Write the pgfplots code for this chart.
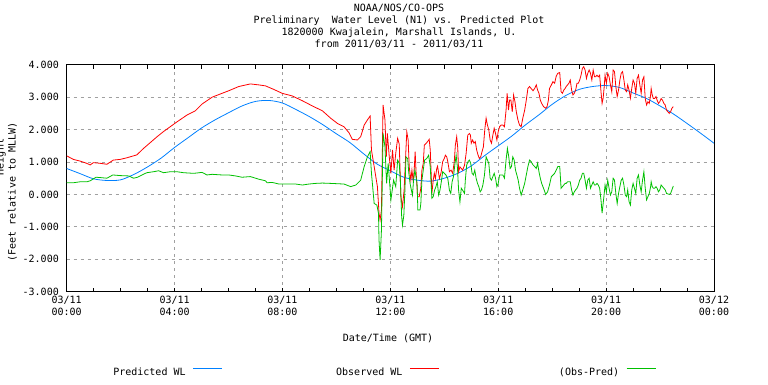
\documentclass[border=0pt]{standalone}
\usepackage{pgfplots}
\pgfplotsset{compat=1.18}
\usepackage{fontspec}
\setmainfont{DejaVu Sans Mono}
\setmonofont{DejaVu Sans Mono}
\definecolor{predc}{RGB}{0,128,255}
\definecolor{obsc}{RGB}{255,0,0}
\definecolor{resc}{RGB}{0,192,0}
\definecolor{gridc}{RGB}{160,160,160}
\begin{document}
\begin{tikzpicture}[font=\fontsize{10}{12}\selectfont]
\begin{axis}[
  at={(66.7pt,92.4pt)}, anchor=south west, scale only axis,
  width=647.3pt, height=226.8pt,
  xmin=0, xmax=24, ymin=-3, ymax=4,
  xtick={0,4,8,12,16,20,24}, minor xtick={1,2,3,5,6,7,9,10,11,13,14,15,17,18,19,21,22,23},
  xticklabels={{03/11\\00:00},{03/11\\04:00},{03/11\\08:00},{03/11\\12:00},{03/11\\16:00},{03/11\\20:00},{03/12\\00:00}},
  xticklabel style={align=center, anchor=north, inner sep=0pt, yshift=-4.4pt},
  ytick={-3,-2,-1,0,1,2,3,4},
  yticklabels={-3.000,-2.000,-1.000,0.000,1.000,2.000,3.000,4.000},
  yticklabel style={anchor=east, inner sep=0pt, xshift=-7.7pt},
  ytick style={/pgfplots/major tick length=0pt},
  tick align=inside, major tick length=4pt, minor tick length=4pt,
  tick style={black, line width=0.8pt},
  xmajorgrids, ymajorgrids,
  major grid style={gridc, dash pattern=on 3pt off 4pt, line width=0.8pt},
  axis line style={black, line width=0.9pt},
  legend columns=3, legend plot pos=right,
  legend style={at={(0.9104,-0.3545)}, anchor=east, draw=none, fill=none,
    inner sep=0pt, outer sep=0pt, nodes={inner sep=0pt},
    /tikz/every odd column/.append style={column sep=7pt}},
  legend image code/.code={\draw[#1] (0pt,3.5pt) -- (29pt,3.5pt);},
]
\addplot[predc, line width=0.8pt, smooth] coordinates {
(0.0,0.80) (0.5,0.64) (1.0,0.48) (1.5,0.43) (2.0,0.45) (2.5,0.62) (3.0,0.85) (3.5,1.12)
(4.0,1.45) (4.5,1.75) (5.0,2.05) (5.5,2.30) (6.0,2.52) (6.5,2.73) (7.0,2.87) (7.5,2.90)
(8.0,2.82) (8.5,2.62) (9.0,2.40) (9.5,2.15) (10.0,1.87) (10.5,1.60) (11.0,1.26) (11.5,0.94)
(12.0,0.73) (12.5,0.53) (13.0,0.44) (13.5,0.41) (14.0,0.50) (14.5,0.65) (15.0,0.88) (15.5,1.20)
(16.0,1.50) (16.5,1.80) (17.0,2.14) (17.5,2.45) (18.0,2.78) (18.5,3.05) (19.0,3.24) (19.5,3.33)
(20.0,3.36) (20.5,3.30) (21.0,3.13) (21.5,2.96) (22.0,2.73) (22.5,2.48) (23.0,2.19) (23.5,1.89)
(24.0,1.58)};
\addlegendentry{\makebox[180pt][r]{Predicted WL}}
\addplot[obsc, line width=0.8pt] coordinates {
(0.00,1.19) (0.25,1.08) (0.49,1.03) (0.74,0.96) (0.87,0.91) (0.99,0.98) (1.24,0.96) (1.49,0.93)
(1.73,1.06) (1.98,1.08) (2.23,1.13) (2.60,1.22) (2.85,1.42) (3.10,1.60) (3.35,1.78) (3.59,1.94)
(3.84,2.09) (4.09,2.24) (4.46,2.45) (4.77,2.58) (5.02,2.79) (5.39,3.00) (5.76,3.12) (6.01,3.20)
(6.38,3.33) (6.81,3.41) (7.12,3.38) (7.37,3.35) (7.68,3.24) (7.99,3.12) (8.36,3.04) (8.74,2.89)
(9.11,2.73) (9.48,2.58) (9.79,2.35) (10.04,2.19) (10.28,2.09) (10.47,1.90) (10.59,1.70) (10.78,1.68)
(10.90,1.78) (11.03,2.14) (11.15,2.30) (11.25,2.42) (11.30,1.37) (11.40,0.86) (11.52,0.24) (11.58,-0.58)
(11.62,-0.79) (11.67,-0.48) (11.73,2.76) (11.80,2.30) (11.85,1.16) (11.89,1.88) (11.96,1.16) (12.02,0.65)
(12.08,1.37) (12.14,0.75) (12.20,1.27) (12.27,1.73) (12.33,1.55) (12.39,-0.07) (12.45,-0.38) (12.51,0.13)
(12.58,1.42) (12.61,1.93) (12.66,1.68) (12.70,0.85) (12.76,0.44) (12.80,0.75) (12.85,0.39) (12.89,0.85)
(12.92,1.32) (12.95,0.75) (13.01,-0.07) (13.07,-0.07) (13.13,0.19) (13.17,0.75) (13.22,0.96) (13.26,1.52)
(13.32,1.57) (13.38,1.63) (13.44,1.70) (13.48,1.37) (13.54,0.03) (13.59,0.44) (13.63,0.65) (13.67,0.49)
(13.72,0.80) (13.75,0.87) (13.82,0.49) (13.88,0.67) (13.94,1.01) (14.00,1.11) (14.04,1.21) (14.09,1.16)
(14.13,1.01) (14.19,0.70) (14.25,0.75) (14.31,0.65) (14.37,1.01) (14.41,1.52) (14.46,1.78) (14.50,1.42)
(14.53,0.70) (14.58,0.85) (14.63,0.80) (14.68,0.75) (14.75,0.90) (14.81,1.27) (14.87,1.83) (14.93,1.88)
(14.97,1.83) (15.00,1.58) (15.05,1.68) (15.10,1.58) (15.15,1.63) (15.20,1.37) (15.25,1.22) (15.30,1.11)
(15.35,1.16) (15.40,1.32) (15.45,1.47) (15.50,1.99) (15.55,2.35) (15.60,2.14) (15.65,1.99) (15.70,1.68)
(15.75,1.58) (15.80,1.83) (15.85,2.04) (15.90,1.88) (15.95,1.68) (16.00,1.94) (16.05,2.09) (16.11,2.14)
(16.17,2.14) (16.23,2.09) (16.29,2.60) (16.33,3.12) (16.38,2.60) (16.42,2.91) (16.47,2.91) (16.52,2.55)
(16.57,3.07) (16.62,2.86) (16.67,2.55) (16.73,2.30) (16.79,2.14) (16.85,2.09) (16.91,2.35) (16.98,2.60)
(17.04,2.91) (17.10,3.27) (17.16,3.33) (17.22,3.27) (17.29,3.20) (17.35,3.27) (17.41,3.38) (17.46,3.22)
(17.51,3.12) (17.56,2.91) (17.61,2.81) (17.68,2.71) (17.76,2.66) (17.81,2.71) (17.86,2.91) (17.90,3.27)
(17.97,3.38) (18.03,3.48) (18.09,3.43) (18.15,3.65) (18.21,3.74) (18.28,3.76) (18.33,3.17) (18.38,3.12)
(18.43,3.22) (18.48,3.27) (18.52,3.33) (18.57,3.38) (18.62,3.43) (18.67,3.53) (18.72,3.22) (18.77,3.07)
(18.82,3.12) (18.87,3.22) (18.92,3.43) (18.97,3.43) (19.02,3.53) (19.07,3.68) (19.12,3.89) (19.17,3.94)
(19.22,3.84) (19.27,3.58) (19.32,3.74) (19.37,3.84) (19.42,3.74) (19.47,3.53) (19.52,3.84) (19.57,3.63)
(19.61,3.63) (19.66,3.68) (19.71,3.63) (19.76,3.68) (19.81,3.17) (19.85,2.81) (19.89,2.97) (19.93,3.33)
(19.96,3.68) (20.01,3.43) (20.06,3.74) (20.11,3.63) (20.16,3.38) (20.21,3.17) (20.26,3.84) (20.31,3.79)
(20.36,3.33) (20.41,3.02) (20.46,3.22) (20.51,3.53) (20.56,3.74) (20.61,3.79) (20.66,3.53) (20.71,3.22)
(20.76,3.17) (20.80,3.38) (20.85,3.22) (20.90,2.97) (20.95,3.27) (21.00,3.53) (21.05,3.43) (21.10,3.12)
(21.15,3.58) (21.20,3.68) (21.25,3.38) (21.30,3.12) (21.35,3.53) (21.40,3.63) (21.45,2.96) (21.50,2.76)
(21.55,2.86) (21.60,2.81) (21.65,3.07) (21.67,3.27) (21.71,3.07) (21.75,2.96) (21.80,2.96) (21.85,3.02)
(21.89,2.91) (21.94,2.81) (21.99,2.86) (22.04,2.96) (22.09,2.91) (22.14,2.81) (22.19,2.76) (22.24,2.60)
(22.29,2.55) (22.34,2.50) (22.39,2.55) (22.44,2.66) (22.49,2.71)};
\addlegendentry{\makebox[180pt][r]{Observed WL}}
\addplot[resc, line width=0.8pt] coordinates {
(0.00,0.36) (0.25,0.36) (0.50,0.39) (0.75,0.39) (0.87,0.42) (1.09,0.53) (1.24,0.52) (1.49,0.50)
(1.71,0.60) (2.00,0.58) (2.30,0.57) (2.48,0.50) (2.63,0.53) (2.79,0.60) (2.97,0.67) (3.22,0.70)
(3.41,0.73) (3.59,0.67) (3.84,0.70) (4.09,0.70) (4.33,0.67) (4.71,0.65) (5.02,0.68) (5.20,0.60)
(5.39,0.62) (5.76,0.60) (6.01,0.60) (6.26,0.57) (6.50,0.53) (6.81,0.55) (7.12,0.47) (7.37,0.42)
(7.43,0.36) (7.62,0.37) (7.87,0.32) (8.24,0.32) (8.49,0.32) (8.74,0.29) (8.98,0.32) (9.23,0.34)
(9.48,0.35) (9.79,0.34) (10.28,0.32) (10.53,0.24) (10.72,0.29) (10.90,0.44) (11.03,0.86) (11.15,1.16)
(11.25,1.32) (11.30,0.65) (11.40,-0.28) (11.50,-0.33) (11.56,-0.58) (11.58,-1.41) (11.62,-2.02) (11.67,-1.10)
(11.73,1.88) (11.80,1.47) (11.86,0.34) (11.92,0.96) (12.02,-0.17) (12.12,0.44) (12.20,0.24) (12.27,1.06)
(12.33,0.96) (12.37,0.44) (12.42,-0.69) (12.45,-0.95) (12.50,-0.64) (12.54,0.13) (12.58,1.16) (12.64,1.11)
(12.68,0.70) (12.73,0.34) (12.78,0.13) (12.82,-0.02) (12.86,0.44) (12.91,0.75) (12.95,0.55) (12.99,0.34)
(13.02,-0.48) (13.10,-0.48) (13.13,-0.28) (13.17,0.44) (13.22,0.75) (13.27,1.06) (13.35,1.11) (13.42,1.21)
(13.48,0.85) (13.54,-0.12) (13.59,-0.07) (13.64,0.13) (13.69,0.24) (13.74,0.39) (13.79,-0.02) (13.84,0.13)
(13.89,0.39) (13.94,0.70) (14.00,0.65) (14.06,0.60) (14.13,0.49) (14.19,0.13) (14.24,0.03) (14.29,0.39)
(14.34,0.55) (14.39,0.91) (14.44,1.21) (14.49,0.80) (14.53,0.13) (14.58,-0.23) (14.63,0.19) (14.68,0.13)
(14.75,0.03) (14.78,0.44) (14.83,0.91) (14.88,1.01) (14.93,1.06) (14.98,0.96) (15.03,0.65) (15.08,0.60)
(15.13,0.75) (15.18,0.50) (15.23,0.34) (15.28,0.24) (15.33,0.08) (15.38,0.14) (15.43,0.29) (15.49,0.60)
(15.55,1.16) (15.60,1.06) (15.65,0.96) (15.70,0.50) (15.75,0.44) (15.80,0.55) (15.85,0.65) (15.90,0.50)
(15.95,0.24) (16.00,0.34) (16.05,0.60) (16.17,0.60) (16.23,0.50) (16.29,1.06) (16.34,1.42) (16.39,1.16)
(16.44,0.80) (16.49,0.86) (16.54,1.16) (16.59,1.06) (16.64,0.75) (16.69,0.60) (16.74,0.44) (16.79,0.19)
(16.85,-0.02) (16.91,0.14) (16.98,0.34) (17.04,0.60) (17.10,0.86) (17.16,1.06) (17.22,1.01) (17.29,0.91)
(17.35,0.86) (17.41,0.80) (17.46,0.96) (17.51,0.70) (17.56,0.50) (17.61,0.34) (17.68,0.19) (17.76,0.00)
(17.83,0.08) (17.90,0.29) (17.97,0.55) (18.03,0.60) (18.09,0.65) (18.15,0.75) (18.21,0.86) (18.28,0.86)
(18.33,0.19) (18.38,0.24) (18.43,0.29) (18.48,0.34) (18.52,0.34) (18.57,0.39) (18.67,0.39) (18.72,0.14)
(18.77,-0.02) (18.82,0.08) (18.87,0.14) (18.92,0.19) (18.97,0.29) (19.02,0.44) (19.07,0.50) (19.12,0.65)
(19.17,0.65) (19.22,0.44) (19.27,0.19) (19.32,0.44) (19.37,0.50) (19.42,0.19) (19.47,0.29) (19.52,0.39)
(19.57,0.29) (19.61,0.29) (19.66,0.34) (19.71,0.29) (19.76,0.19) (19.81,-0.17) (19.85,-0.58) (19.89,-0.28)
(19.93,0.03) (19.96,0.29) (20.01,0.08) (20.06,0.44) (20.11,0.19) (20.16,-0.02) (20.21,0.08) (20.26,0.50)
(20.31,0.44) (20.36,0.03) (20.41,-0.28) (20.46,0.03) (20.51,0.24) (20.56,0.44) (20.61,0.50) (20.66,0.29)
(20.71,-0.02) (20.76,-0.07) (20.80,0.14) (20.85,-0.22) (20.90,-0.33) (20.95,0.14) (21.00,0.34) (21.05,0.19)
(21.10,0.03) (21.15,0.50) (21.20,0.60) (21.25,0.29) (21.30,0.08) (21.35,0.44) (21.40,0.70) (21.45,0.19)
(21.50,-0.17) (21.55,-0.07) (21.60,0.03) (21.65,0.24) (21.67,0.39) (21.71,0.24) (21.75,0.19) (21.80,0.19)
(21.85,0.24) (21.89,0.19) (21.94,0.08) (21.99,0.14) (22.04,0.29) (22.09,0.24) (22.14,0.19) (22.19,0.14)
(22.24,0.03) (22.34,0.00) (22.39,0.03) (22.44,0.14) (22.49,0.26)};
\addlegendentry{\makebox[180pt][r]{(Obs-Pred)}}
\end{axis}
\node[anchor=base] at (399pt,372.4pt) {NOAA/NOS/CO-OPS};
\node[anchor=base] at (399pt,360.4pt) {Preliminary\ \ Water Level (N1) vs. Predicted Plot};
\node[anchor=base] at (399pt,348.4pt) {1820000 Kwajalein, Marshall Islands, U.};
\node[anchor=base] at (399pt,336.4pt) {from 2011/03/11 - 2011/03/11};
\node[anchor=base] at (388pt,42.4pt) {Date/Time (GMT)};
\node[anchor=base, rotate=90] at (15.6pt,192pt) {(Feet relative to MLLW)};
\node[anchor=base, rotate=90] at (3.6pt,227pt) {Height};
\pgfresetboundingbox
\path[use as bounding box] (0pt,0pt) rectangle (768pt,384pt);
\end{tikzpicture}
\end{document}
